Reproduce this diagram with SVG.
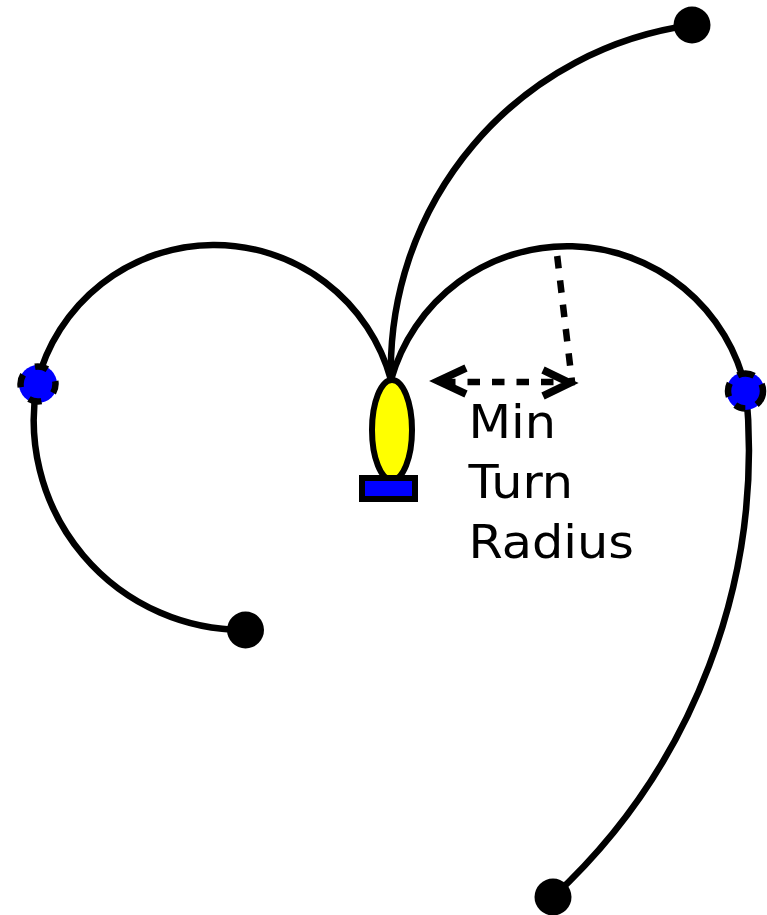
<svg xmlns="http://www.w3.org/2000/svg" width="767" height="915" viewBox="0 0 767 915">
<style>
.c{fill:none;stroke:#000;stroke-width:6.500}
.d{fill:none;stroke:#000;stroke-width:6.500;stroke-dasharray:12.500 12}
.a{fill:none;stroke:#000;stroke-width:7.500;stroke-miterlimit:10}
.e{fill:#000}
.b{fill:#00f}
.w{fill:none;stroke:#000;stroke-width:6.500}
text{font-family:"DejaVu Sans",sans-serif;font-size:47px;fill:#000}
</style>
<rect width="767" height="915" fill="#fff"/>
<g id="connectors">
<path class="c" d="M391 380A183 183 0 0 0 37 383"/>
<path class="c" d="M37 383A210 210 0 0 0 245 630"/>
<path class="c" d="M391 380A183 183 0 0 1 746 390"/>
<path class="c" d="M746 390A610 610 0 0 1 553 897"/>
<path class="c" d="M391 380A348 348 0 0 1 692 25"/>
<path class="d" d="M557.200 256L572 382"/>
<path class="d" d="M443 382H575"/>
<path class="a" d="M466 368L438 381L466 394M543 370L570 383L543 396"/>
</g>
<g id="end-top"><circle class="e" cx="692" cy="25" r="18.500"/></g>
<g id="end-left"><circle class="e" cx="245.500" cy="630" r="18.500"/></g>
<g id="end-bottom"><circle class="e" cx="553" cy="897" r="18.500"/></g>
<g id="wp-left"><circle class="b" cx="38" cy="384" r="19"/><circle class="w" cx="38" cy="384" r="17.500" stroke-dasharray="13 14.500" stroke-dashoffset="3.700"/></g>
<g id="wp-right"><circle class="b" cx="745.500" cy="391" r="19"/><circle class="w" cx="745.500" cy="391" r="17.500" stroke-dasharray="22.900 12.200 10.700 10.700 13.700 11.300 17 11.300" stroke-dashoffset="7.600"/></g>
<g id="vehicle">
<ellipse cx="392" cy="430" rx="20" ry="50" fill="#ff0" stroke="#000" stroke-width="6"/>
<rect x="362" y="478" width="53" height="21" fill="#00f" stroke="#000" stroke-width="6"/>
</g>
<g id="label" transform="translate(468.500 0) scale(1.050 1)">
<text x="0" y="438">Min</text>
<text x="0" y="498">Turn</text>
<text x="0" y="558">Radius</text>
</g>
</svg>
